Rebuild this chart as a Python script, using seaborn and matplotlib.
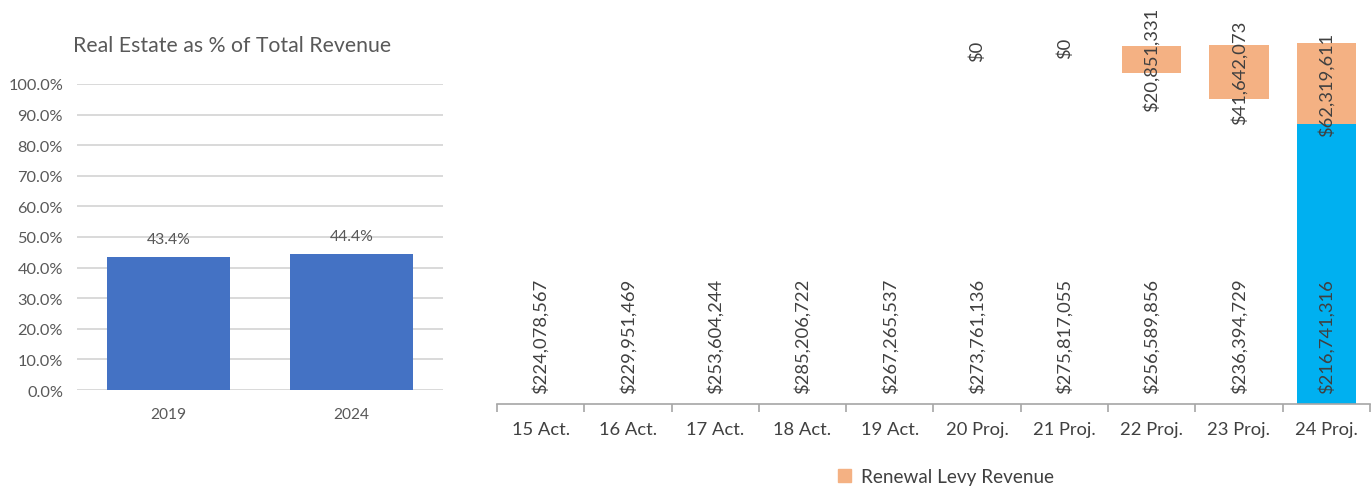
import numpy as np
import pandas as pd
import seaborn as sns
import matplotlib.pyplot as plt
from matplotlib.patches import Patch

# ---------------------------------
# Data
# ---------------------------------
share_years = ["2019", "2024"]
share_values = [0.434, 0.444]

fiscal_years = ["15 Act.", "16 Act.", "17 Act.", "18 Act.", "19 Act.",
                "20 Proj.", "21 Proj.", "22 Proj.", "23 Proj.", "24 Proj."]
base_revenue = [224078567, 229951469, 253604244, 285206722, 267265537,
                273761136, 275817055, 256589856, 236394729, 216741316]
levy_revenue = [np.nan, np.nan, np.nan, np.nan, np.nan,
                0, 0, 20851331, 41642073, 62319611]

sns.set_theme(style="white")
plt.rcParams['font.family'] = ['Lato', 'DejaVu Sans']

GREY = "#595959"
DARK = "#404040"

fig = plt.figure(figsize=(13.72, 4.89), dpi=100)

# ---------------------------------
# Left: Real Estate as % of Total Revenue
# ---------------------------------
ax1 = fig.add_axes([0.0561, 0.2004, 0.2668, 0.6258])
share_df = pd.DataFrame({"Year": share_years, "Share": share_values})
sns.barplot(data=share_df, x="Year", y="Share", color="#4472C4", width=0.67,
            saturation=1, linewidth=0, ax=ax1, zorder=3)
ax1.set_ylim(0, 1.0)
ax1.set_xlim(-0.5, 1.5)
ax1.set_yticks(np.arange(0, 1.01, 0.1))
ax1.set_yticklabels([f"{t * 100:.1f}%" for t in np.arange(0, 1.01, 0.1)])
ax1.yaxis.grid(True, color="#D9D9D9", linewidth=1.4, zorder=0)
ax1.set_axisbelow(True)
for s in ax1.spines.values():
    s.set_visible(False)
ax1.tick_params(axis="y", length=0, pad=10, labelsize=11.8, labelcolor=GREY)
ax1.tick_params(axis="x", length=0, pad=12, labelsize=11.2, labelcolor=GREY)
ax1.set_xlabel("")
ax1.set_ylabel("")
for i, v in enumerate(share_values):
    ax1.annotate(f"{v * 100:.1f}%", (i, v), xytext=(0, 8), textcoords="offset points",
                 ha="center", va="bottom", fontsize=11.3, color=GREY)
fig.text(0.053, 0.905, "Real Estate as % of Total Revenue", fontsize=15.3,
         color=GREY, ha="left", va="center")

# ---------------------------------
# Right: revenue with renewal levy stacked on top
# ---------------------------------
ax2 = fig.add_axes([0.3622, 0.1718, 0.6363, 0.8282])
rev_df = pd.DataFrame({"Year": fiscal_years, "Base": base_revenue,
                       "Levy": levy_revenue})
rev_df["Total"] = rev_df["Base"] + rev_df["Levy"].fillna(0)

sns.barplot(data=rev_df, x="Year", y="Total", color="#F4B183", width=0.68,
            saturation=1, linewidth=0, ax=ax2)
base_colors = ["#FFFFFF"] * 9 + ["#00B0F0"]
sns.barplot(data=rev_df, x="Year", y="Base", hue="Year", palette=base_colors,
            width=0.68, saturation=1, linewidth=0, legend=False, ax=ax2)

ax2.set_ylim(0, 313.5e6)
ax2.set_xlim(-0.5, len(fiscal_years) - 0.5)
ax2.set_yticks([])
ax2.set_xlabel("")
ax2.set_ylabel("")
for side in ["left", "right", "top"]:
    ax2.spines[side].set_visible(False)
ax2.spines["bottom"].set_color("#A6A6A6")
ax2.spines["bottom"].set_linewidth(1.2)
ax2.spines["bottom"].set_zorder(5)
ax2.set_xticks(np.arange(-0.5, len(fiscal_years), 1), minor=True)
ax2.tick_params(axis="x", which="major", length=0, pad=12, labelsize=13.2,
                labelcolor=DARK)
ax2.tick_params(axis="x", which="minor", length=6, width=1.2, color="#A6A6A6",
                bottom=True)

for i, (b, lv) in enumerate(zip(base_revenue, levy_revenue)):
    ax2.annotate(f"${b:,.0f}", (i, 0), xytext=(0, 8), textcoords="offset points",
                 rotation=90, ha="center", va="bottom", fontsize=13.2, color=DARK)
    if not np.isnan(lv):
        ax2.text(i, b + lv / 2, f"${lv:,.0f}", rotation=90, ha="center",
                 va="center", fontsize=13.2, color=DARK)

fig.legend(handles=[Patch(color="#F4B183", label="Renewal Levy Revenue")],
           loc="center", bbox_to_anchor=(0.6895, 0.024), frameon=False,
           fontsize=13.6, handlelength=0.7, handleheight=0.7, handletextpad=0.5,
           labelcolor=DARK)

fig.savefig("out.png", dpi=100)
